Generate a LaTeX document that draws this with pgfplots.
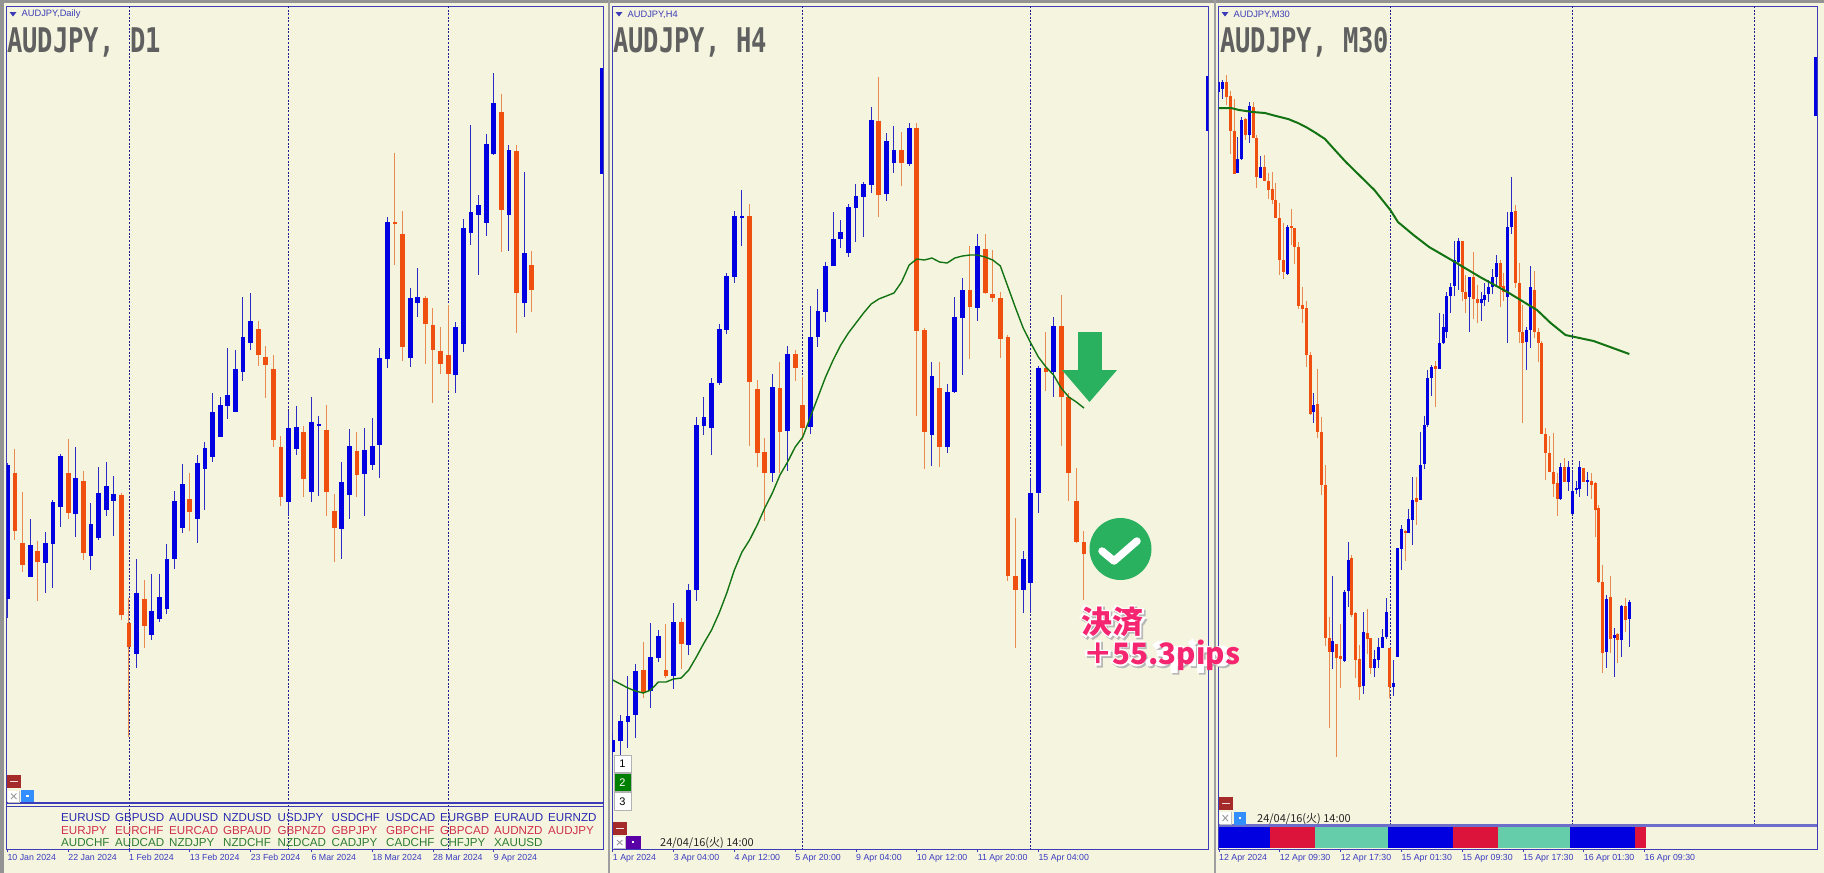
\documentclass[border=0pt]{standalone}
\usepackage{pgfplots}
\usepackage{pgfplotstable}
\pgfplotsset{compat=1.18}
\usepackage{fontspec}
\setmainfont{Liberation Sans}
\newfontfamily\ttlfont[FakeStretch=0.75]{DejaVu Sans Mono}
\newfontfamily\jp{Noto Sans CJK JP}
\newfontfamily\jphalo[FakeBold=14]{Noto Sans CJK JP}
\definecolor{bg}{HTML}{F5F5DF}
\definecolor{fr}{HTML}{3C3CB8}
\definecolor{gridc}{HTML}{1E1E90}
\definecolor{upb}{HTML}{0000E0}
\definecolor{upw}{HTML}{2A2AC4}
\definecolor{dnb}{HTML}{F0500F}
\definecolor{dnw}{HTML}{E98A50}
\definecolor{ma}{HTML}{137313}
\definecolor{ttl}{HTML}{606060}
\definecolor{tk}{HTML}{3A3AC0}
\definecolor{btnred}{HTML}{A52A2A}
\definecolor{cr}{HTML}{DC143C}
\definecolor{mint}{HTML}{66CDAA}
\definecolor{arr}{HTML}{29B160}
\definecolor{pink}{HTML}{F5256F}
\definecolor{rowa}{HTML}{2A2AB0}
\definecolor{rowb}{HTML}{D0304A}
\definecolor{rowc}{HTML}{2E7D2E}

% ---------- Daily ----------
\pgfplotstableread{
i h t b l
0 463 465 599 618
3 519 545 577 577
5 532 543 563 593
6 500 502 544 588
7 454 456 507 527
9 447 478 514 537
11 503 524 556 570
12 467 493 538 540
13 462 486 510 516
14 476 494 501 536
17 559 593 654 668
19 574 611 635 640
20 574 597 619 622
21 544 559 609 614
22 491 501 559 569
23 464 484 528 533
25 455 463 519 543
26 442 448 469 510
27 393 412 457 462
28 397 405 437 437
29 348 395 406 419
30 350 369 412 412
31 297 337 372 381
32 293 321 343 350
37 411 428 502 515
38 406 427 449 455
40 397 422 492 502
41 416 424 426 496
44 462 482 529 559
45 429 446 495 519
47 428 450 474 516
48 418 446 465 470
49 348 358 445 478
50 217 222 359 368
53 288 298 358 367
54 268 297 303 317
59 322 327 375 393
60 219 228 344 352
61 125 212 233 245
62 195 205 215 275
63 134 144 223 236
64 73 103 154 155
66 145 150 215 251
68 172 253 303 317
}\dayU
\pgfplotstableread{
i h t b l
1 449 473 531 540
2 492 543 565 572
4 541 551 562 601
8 439 473 513 519
10 471 481 553 560
15 493 495 615 620
16 598 623 647 737
18 580 599 626 648
24 473 499 512 531
33 321 329 355 366
34 346 357 365 398
35 355 369 440 447
36 436 447 497 506
39 426 432 479 497
42 405 430 492 516
43 494 511 528 562
46 432 451 475 497
51 153 222 224 265
52 211 234 347 361
55 296 298 324 364
56 308 325 350 403
57 327 351 364 374
58 305 355 374 391
65 94 112 210 252
67 145 151 293 333
69 251 265 290 312
}\dayD

% ---------- H4 ----------
\pgfplotstableread{
i h t b l
0 733 740 752 755
1 715 721 741 755
2 676 716 722 748
3 664 671 715 738
5 623 657 691 708
6 630 636 658 662
8 603 622 676 689
10 584 590 645 655
11 417 425 590 601
12 397 417 426 435
13 378 383 428 455
14 324 329 383 385
15 273 276 330 334
16 211 216 277 283
17 190 216 218 246
21 374 387 473 482
23 346 354 431 471
26 306 337 427 434
27 289 311 337 347
28 262 266 312 322
29 212 239 266 266
30 220 232 239 248
31 204 207 253 257
32 184 196 208 242
33 182 184 197 237
34 107 120 185 193
36 133 141 194 201
37 126 150 163 173
39 123 128 164 166
42 362 376 435 466
44 384 392 447 453
45 297 317 392 393
46 278 290 318 375
48 234 246 308 321
54 551 559 590 613
55 478 493 583 613
56 366 368 493 513
58 317 326 372 397
}\hU
\pgfplotstableread{
i h t b l
4 642 670 692 698
7 624 670 676 678
9 618 622 644 669
18 204 216 382 446
19 380 389 453 467
20 438 452 473 521
22 362 388 432 473
24 350 354 368 381
25 377 405 428 440
35 77 121 195 217
38 132 150 163 186
40 123 128 331 416
41 328 330 432 469
43 362 388 447 467
47 246 290 307 359
49 234 249 293 294
50 250 294 298 302
51 292 298 339 358
52 335 337 576 581
53 518 576 590 648
57 332 368 372 391
59 295 326 397 446
60 393 397 473 501
61 468 501 542 543
62 531 542 554 600
}\hD
\pgfplotstableread{
i y
0 680
1 684
2 688
3 691
4 693
5 690
6 682
7 682
8 679
9 678
10 670
11 657
12 643
13 630
14 613
15 593
16 570
17 552
18 540
19 525
20 508
21 493
22 475
23 462
24 447
25 437
26 417
27 397
28 377
29 360
30 345
31 333
32 323
33 313
34 304
35 299
36 296
37 293
38 282
39 265
40 259
41 260
42 258
43 262
44 263
45 258
46 256
47 255
48 255
49 257
50 260
51 266
52 287
53 308
54 328
55 343
56 357
57 367
58 375
59 388
60 397
61 402
62 408
}\hMA

% ---------- M30 ----------
\pgfplotstableread{
i h t b l
0 82 82 92 98
1 80 82 89 99
5 137 159 173 173
6 117 120 159 160
8 102 106 135 143
11 156 167 178 178
18 225 227 274 275
25 393 405 412 423
30 576 641 652 669
33 590 592 661 662
34 542 560 591 607
38 612 632 686 694
41 650 659 668 677
42 638 647 660 668
43 629 637 648 648
44 598 612 637 639
46 660 683 687 696
47 548 548 657 657
48 525 529 549 570
50 509 519 533 533
51 477 500 520 545
53 432 465 500 500
54 416 425 464 469
55 370 378 425 427
56 365 367 378 396
58 313 343 369 369
59 314 327 343 344
60 292 296 332 338
61 283 287 296 313
62 241 260 286 296
63 238 241 262 290
66 277 277 297 332
69 292 299 303 321
70 283 295 300 306
71 280 287 294 302
72 269 277 287 294
73 255 263 277 287
76 212 227 297 343
77 177 212 227 234
81 327 330 342 370
82 266 287 330 348
90 463 467 499 500
92 461 467 482 491
93 472 491 514 514
94 481 488 490 494
95 461 467 489 497
97 472 480 481.5 496
102 595 599 652 668
104 628 635 638 677
106 605 606 640 657
108 600 602 619 647
}\mU
\pgfplotstableread{
i h t b l
2 75 82 97 105
3 91 96 131 154
4 99 131 174 174
7 118 119 135 140
9 102 107 138 138
10 135 138 177 188
12 155 167 181 181
13 173 181 190 199
14 172 189 200 204
15 183 200 218 218
16 203 218 260 275
17 223 260 272 279
19 209 226 228 245
20 228 228 247 264
21 242 247 306 309
22 287 305 309 323
23 301 308 355 367
24 352 355 414 415
26 369 404 432 438
27 417 432 485 495
28 465 485 638 646
29 617 638 652 728
31 644 644 658 757
32 624 656 659 688
35 555 558 615 617
36 612 613 660 678
37 645 659 687 700
39 609 633 639 654
40 638 638 668 674
45 648 648 687 698
49 530 531 533 561
52 477 498 502 525
57 361 366 369 407
64 241 241 292 301
65 275 292 299 313
67 252 277 299 319
68 285 299 303 323
74 260 263 287 307
75 273 286 292 301
78 205 211 283 288
79 263 283 332 343
80 305 332 343 423
83 271 290 332 338
84 328 332 343 362
85 341 343 434 434
86 428 434 453 480
87 436 453 472 472
88 433 472 484 497
89 473 483 499 516
91 458 467 482 482
96 468 468 482 482
98 473 481 485 499
99 482 483 510 537
100 505 508 582 583
101 565 582 653 673
103 576 597 639 653
105 633 634 640 663
107 598 606 620 632
}\mD
\pgfplotstableread{
i y
0 108
3.2 108
5.3 110
7.1 111
8.9 112
12.1 113
15 116
18.2 119
20.8 123
22.9 127
25.5 133
27.9 139
30.5 150
33.4 162
40.9 190
45.1 210
47.1 222
51.2 235
55.3 247
62.1 262
68.7 277
75.9 292
83.7 310
87.3 323
91.2 335
98.6 341
108 354
}\mMA

\newcommand{\candles}[4]{%
 \addplot[draw=none,forget plot,error bars/.cd,y dir=plus,y explicit,error mark=none,
   error bar style={draw=#3,line width=1pt}]
   table[x=i,y=h,y error plus expr=\thisrow{l}-\thisrow{h}]{#1};
 \addplot[draw=none,forget plot,error bars/.cd,y dir=plus,y explicit,error mark=none,
   error bar style={draw=#2,line width=#4}]
   table[x=i,y=t,y error plus expr=\thisrow{b}-\thisrow{t}]{#1};
}
\newcommand{\gridline}[1]{\addplot[draw=none,forget plot,error bars/.cd,y dir=plus,y explicit,error mark=none,
   error bar style={draw=gridc,line width=.9pt,dash pattern=on 2pt off 1.6pt}] coordinates {(#1,6) +- (0,843)};}
\pgfplotsset{panel/.style={
  scale only axis, anchor=south west, height=843pt,
  y dir=reverse, ymin=6, ymax=849, ytick=\empty,
  axis line style={color=fr,line width=1pt},
  xtick pos=lower, xticklabel pos=lower, tick align=outside,
  major tick length=3pt, tick style={color=fr,line width=.8pt},
  xticklabel style={font=\fontsize{8.8}{9}\selectfont,text=tk,anchor=north west,inner sep=0pt,yshift=-2pt},
  clip=true}}

\newcommand{\smalltitle}[3]{%
 \fill[fr] (#1-3.5,12) -- (#1+3.5,12) -- (#1,16.5) -- cycle;
 \node[anchor=west,inner sep=0pt,text=fr,font=\fontsize{9.3}{10}\selectfont] at (#2,14.5) {#3};}
\newcommand{\bigtitle}[2]{\node[anchor=base west,inner sep=0pt,text=ttl,font=\fontsize{34}{36}\selectfont\ttlfont\bfseries] at (#1,52) {#2};}
\newcommand{\redbtn}[4]{\fill[btnred] (#1,#2) rectangle (#3,#4);
 \fill[white!85!btnred] ({#1+3},{(#2+#4)/2-.7}) rectangle ({#3-3},{(#2+#4)/2+.7});}
\newcommand{\xbtn}[4]{\fill[white] (#1,#2) rectangle (#3,#4);
 \draw[gray!80,line width=.9pt] ({#1+3},{#2+3}) -- ({#3-3},{#4-3}) ({#1+3},{#4-3}) -- ({#3-3},{#2+3});
 \draw[gray!50,line width=.6pt] (#1,#4) -- (#3,#4) -- (#3,#2);}
\newcommand{\colbtn}[5]{\fill[#5] (#1,#2) rectangle (#3,#4);
 \fill[white] ({(#1+#3)/2-1.2},{(#2+#4)/2-1.2}) rectangle ({(#1+#3)/2+1.2},{(#2+#4)/2+1.2});}
\newcommand{\halotext}[4]{% x, y, size, text
 \node[anchor=base west,inner sep=0pt,font=\jphalo\fontsize{#3}{#3}\selectfont,text=black!28] at ({#1+1.8},{#2+1.8}) {#4};
 \node[anchor=base west,inner sep=0pt,font=\jphalo\fontsize{#3}{#3}\selectfont,text=white] at (#1,#2) {#4};
 \node[anchor=base west,inner sep=0pt,font=\jp\bfseries\fontsize{#3}{#3}\selectfont,text=pink] at (#1,#2) {#4};}

\begin{document}
\begin{tikzpicture}[x=1pt,y=-1pt]
\useasboundingbox (0,0) rectangle (1824,873);
\coordinate (Pa) at (6.6,849);
\coordinate (Pb) at (612,849);
\coordinate (Pc) at (1218.6,849);
\fill[bg] (0,0) rectangle (1824,873);
% window chrome
\fill[gray!85] (0,0) rectangle (1824,3.2);
\fill[gray!85] (0,0) rectangle (3.5,873);
\fill[gray!75] (607.5,0) rectangle (610,873);
\fill[gray!75] (1213.5,0) rectangle (1216,873);

% titles behind the grid
\bigtitle{7}{AUDJPY, D1}
\bigtitle{613}{AUDJPY, H4}
\bigtitle{1220}{AUDJPY, M30}
\smalltitle{13}{21.5}{AUDJPY,Daily}
\smalltitle{619}{627.5}{AUDJPY,H4}
\smalltitle{1225}{1233.5}{AUDJPY,M30}

% ===== Daily =====
\begin{axis}[panel,at={(Pa)},width=596.4pt,xmin=-0.105,xmax=78.37,
  xtick={0,8,...,64},
  xticklabels={10 Jan 2024,22 Jan 2024,1 Feb 2024,13 Feb 2024,23 Feb 2024,6 Mar 2024,18 Mar 2024,28 Mar 2024,9 Apr 2024}]
 \gridline{16}\gridline{37}\gridline{58}
 \candles{\dayD}{dnb}{dnw}{4.8pt}
 \candles{\dayU}{upb}{upw}{4.8pt}
 \addplot[fr,line width=1.6pt,forget plot] coordinates {(-0.105,803) (78.37,803)};
 \addplot[fr,line width=1pt,forget plot] coordinates {(-0.105,806) (78.37,806)};
 \addplot[upb,line width=3pt,forget plot] coordinates {(78.15,68) (78.15,174)};
\end{axis}
% ===== H4 =====
\begin{axis}[panel,at={(Pb)},width=596pt,xmin=-0.1,xmax=78.32,
  xtick={0,8,...,56},
  xticklabels={1 Apr 2024,3 Apr 04:00,4 Apr 12:00,5 Apr 20:00,9 Apr 04:00,10 Apr 12:00,11 Apr 20:00,15 Apr 04:00}]
 \gridline{25}\gridline{55}
 \candles{\hD}{dnb}{dnw}{4.8pt}
 \candles{\hU}{upb}{upw}{4.8pt}
 \addplot[ma,line width=1.4pt,forget plot] table[x=i,y=y]{\hMA};
 \addplot[upb,line width=3pt,forget plot] coordinates {(78.2,76) (78.2,131)};
\end{axis}
% ===== M30 =====
\begin{axis}[panel,at={(Pc)},width=598.4pt,xmin=-0.1,xmax=157.4,
  xtick={0,16,...,112},
  xticklabels={12 Apr 2024,12 Apr 09:30,12 Apr 17:30,15 Apr 01:30,15 Apr 09:30,15 Apr 17:30,16 Apr 01:30,16 Apr 09:30}]
 \gridline{45}\gridline{93}\gridline{141}
 \candles{\mD}{dnb}{dnw}{3pt}
 \candles{\mU}{upb}{upw}{3pt}
 \addplot[ma,line width=2pt,forget plot] table[x=i,y=y]{\mMA};
 \addplot[upb,line width=3pt,forget plot] coordinates {(157.1,57) (157.1,116)};
 \addplot[fill=bg,draw=none,forget plot] coordinates {(-0.1,826) (157.4,826) (157.4,849) (-0.1,849)} --cycle;
 \addplot[fill=upb,draw=none,forget plot] coordinates {(-0.1,827) (13.5,827) (13.5,848) (-0.1,848)} --cycle;
 \addplot[fill=cr,draw=none,forget plot] coordinates {(13.5,827) (25.4,827) (25.4,848) (13.5,848)} --cycle;
 \addplot[fill=mint,draw=none,forget plot] coordinates {(25.4,827) (44.5,827) (44.5,848) (25.4,848)} --cycle;
 \addplot[fill=upb,draw=none,forget plot] coordinates {(44.5,827) (61.5,827) (61.5,848) (44.5,848)} --cycle;
 \addplot[fill=cr,draw=none,forget plot] coordinates {(61.5,827) (73.5,827) (73.5,848) (61.5,848)} --cycle;
 \addplot[fill=mint,draw=none,forget plot] coordinates {(73.5,827) (92.4,827) (92.4,848) (73.5,848)} --cycle;
 \addplot[fill=upb,draw=none,forget plot] coordinates {(92.4,827) (109.4,827) (109.4,848) (92.4,848)} --cycle;
 \addplot[fill=cr,draw=none,forget plot] coordinates {(109.4,827) (112.4,827) (112.4,848) (109.4,848)} --cycle;
 \addplot[color=fr!75!white,line width=2.8pt,forget plot] coordinates {(-0.1,825.5) (157.4,825.5)};
\end{axis}

% symbol panel
\begin{scope}[every node/.style={anchor=base west,inner sep=0pt,font=\fontsize{11.6}{12}\selectfont}]
\foreach \x/\a/\b/\c in {61/EURUSD/EURJPY/AUDCHF,115/GBPUSD/EURCHF/AUDCAD,169/AUDUSD/EURCAD/NZDJPY,223/NZDUSD/GBPAUD/NZDCHF,277.5/USDJPY/GBPNZD/NZDCAD,331.5/USDCHF/GBPJPY/CADJPY,386/USDCAD/GBPCHF/CADCHF,440/EURGBP/GBPCAD/CHFJPY,494/EURAUD/AUDNZD/XAUUSD}{
 \node[text=rowa] at (\x,821.5) {\a};
 \node[text=rowb] at (\x,834.5) {\b};
 \node[text=rowc] at (\x,846.5) {\c};
}
\node[text=rowa] at (548,821.5) {EURNZD};
\node[text=rowb] at (548,834.5) {AUDJPY};
\end{scope}

% buttons
\redbtn{6.8}{775}{20.6}{788}
\xbtn{8}{790.5}{19.5}{802}
\colbtn{20.6}{789.5}{34}{802}{blue!55!cyan!80!white}
\redbtn{613}{822}{626.6}{835}
\xbtn{614}{837}{625.4}{848}
\colbtn{626}{836}{640.5}{848.5}{violet!70!blue}
\redbtn{1219}{797}{1232.7}{810}
\xbtn{1219.5}{812}{1231}{824}
\colbtn{1234}{812}{1246}{824.5}{blue!55!cyan!80!white}
\foreach \y/\n/\f/\t in {755/1/white/black,773.5/2/green!50!black/white,792.5/3/white/black}{
 \filldraw[fill=\f,draw=gray!60,line width=.8pt] (614,\y) rectangle (631,{\y+17.5});
 \node[inner sep=0pt,font=\fontsize{11}{11}\selectfont,text=\t] at (622.5,{\y+9}) {\n};
}
\node[anchor=west,inner sep=0pt,font=\jp\fontsize{11}{11}\selectfont,text=black!85] at (660,843) {24/04/16(火) 14:00};
\node[anchor=west,inner sep=0pt,font=\jp\fontsize{11}{11}\selectfont,text=black!85] at (1257,819) {24/04/16(火) 14:00};

% annotations
\fill[arr] (1077.5,332) rectangle (1102,371);
\fill[arr] (1062,370) -- (1117,370) -- (1089.5,402) -- cycle;
\fill[arr] (1120.5,549) circle (31);
\draw[white,line width=7.5pt,line cap=round,line join=round] (1102,551) -- (1114,561) -- (1137,541);

\halotext{1081}{633}{31}{決済}
\halotext{1083}{664}{29.5}{＋55.3pips}
\end{tikzpicture}
\end{document}
